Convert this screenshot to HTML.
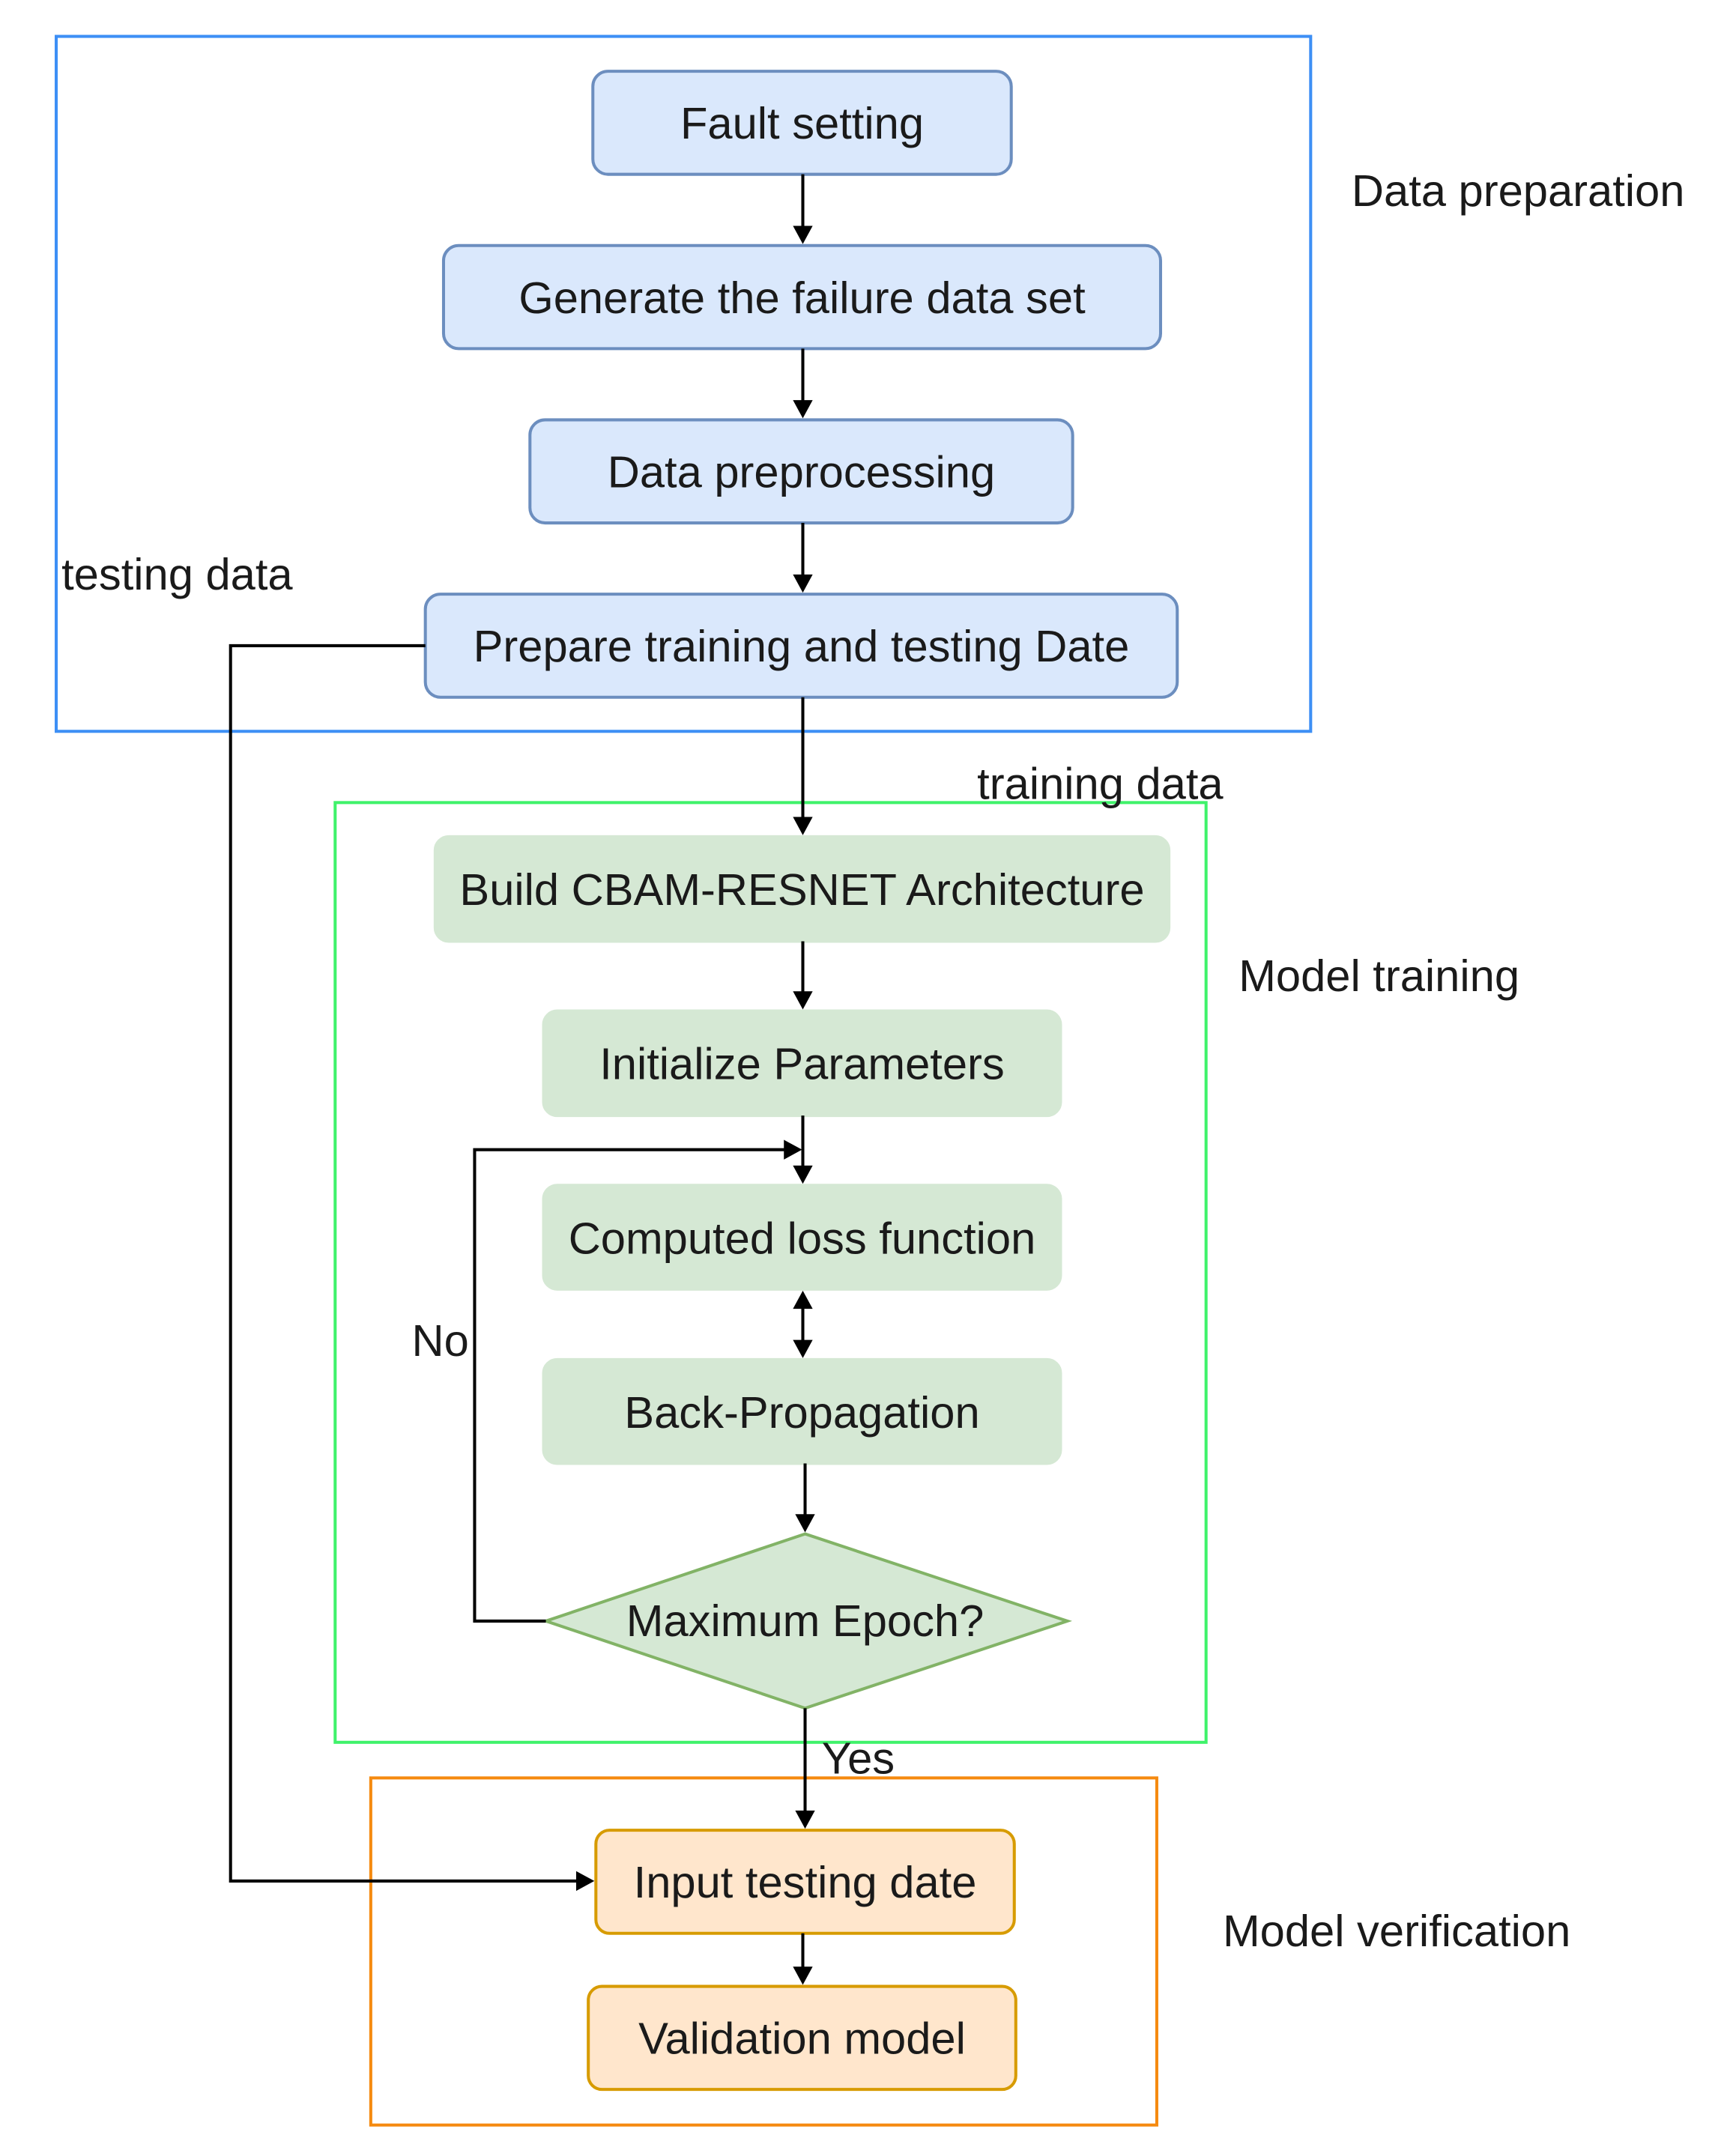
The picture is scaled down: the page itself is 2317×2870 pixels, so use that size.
<!DOCTYPE html>
<html><head><meta charset="utf-8"><style>
html,body{margin:0;padding:0;background:#fff;}
svg text{font-family:"Liberation Sans",Arial,sans-serif;font-size:59px;fill:#1a1a1a;}
</style></head><body>
<svg width="2317" height="2865" viewBox="0 0 2290 2832" xmlns="http://www.w3.org/2000/svg">
<!-- group frames -->
<rect x="74" y="48" width="1655" height="917" fill="none" stroke="#3d8ff5" stroke-width="4"/>
<rect x="442" y="1059" width="1149" height="1240" fill="none" stroke="#3ff26a" stroke-width="4"/>
<rect x="489" y="2346" width="1037" height="458" fill="none" stroke="#f58a10" stroke-width="4"/>

<!-- blue boxes -->
<g fill="#dae8fc" stroke="#6c8ebf" stroke-width="4">
<rect x="782" y="94" width="552" height="136" rx="20"/>
<rect x="585" y="324" width="946" height="136" rx="20"/>
<rect x="699" y="554" width="716" height="136" rx="20"/>
<rect x="561" y="784" width="992" height="136" rx="20"/>
</g>
<!-- green boxes -->
<g fill="#d5e8d4" stroke="#d5e8d4" stroke-width="4">
<rect x="574" y="1104" width="968" height="138" rx="18"/>
<rect x="717" y="1334" width="682" height="138" rx="18"/>
<rect x="717" y="1564" width="682" height="137" rx="18"/>
<rect x="717" y="1794" width="682" height="137" rx="18"/>
</g>
<polygon points="1062,2024 1408,2139 1062,2254 720,2139" fill="#d5e8d4" stroke="#82b366" stroke-width="4"/>
<!-- orange boxes -->
<g fill="#ffe6cc" stroke="#d79b00" stroke-width="4">
<rect x="786" y="2415" width="552" height="136" rx="18"/>
<rect x="776" y="2621" width="564" height="136" rx="18"/>
</g>

<!-- connectors -->
<g stroke="#000" stroke-width="4" fill="none">
<line x1="1059" y1="230" x2="1059" y2="300"/>
<line x1="1059" y1="460" x2="1059" y2="530"/>
<line x1="1059" y1="690" x2="1059" y2="760"/>
<line x1="1059" y1="920" x2="1059" y2="1080"/>
<line x1="1059" y1="1242" x2="1059" y2="1310"/>
<line x1="1059" y1="1472" x2="1059" y2="1540"/>
<line x1="1059" y1="1725" x2="1059" y2="1770"/>
<line x1="1062" y1="1931" x2="1062" y2="2000"/>
<line x1="1062" y1="2254" x2="1062" y2="2391"/>
<line x1="1059" y1="2551" x2="1059" y2="2597"/>
<polyline points="561,852 304,852 304,2482 762,2482"/>
<polyline points="720,2139 626,2139 626,1517 1040,1517"/>
</g>
<g fill="#000">
<polygon points="1046,298 1072,298 1059,322"/>
<polygon points="1046,528 1072,528 1059,552"/>
<polygon points="1046,758 1072,758 1059,782"/>
<polygon points="1046,1078 1072,1078 1059,1102"/>
<polygon points="1046,1308 1072,1308 1059,1332"/>
<polygon points="1046,1538 1072,1538 1059,1562"/>
<polygon points="1046,1727 1072,1727 1059,1703"/>
<polygon points="1046,1768 1072,1768 1059,1792"/>
<polygon points="1049,1998 1075,1998 1062,2022"/>
<polygon points="1049,2389 1075,2389 1062,2413"/>
<polygon points="1046,2595 1072,2595 1059,2619"/>
<polygon points="760,2469 760,2495 784,2482"/>
<polygon points="1034,1504 1034,1530 1058,1517"/>
</g>

<!-- box texts -->
<g text-anchor="middle">
<text x="1058" y="183">Fault setting</text>
<text x="1058" y="413">Generate the failure data set</text>
<text x="1057" y="643">Data preprocessing</text>
<text x="1057" y="873">Prepare training and testing Date</text>
<text x="1058" y="1194">Build CBAM-RESNET Architecture</text>
<text x="1058" y="1424">Initialize  Parameters</text>
<text x="1058" y="1654">Computed loss function</text>
<text x="1058" y="1884">Back-Propagation</text>
<text x="1062" y="2159">Maximum Epoch?</text>
<text x="1062" y="2504">Input testing date</text>
<text x="1058" y="2710">Validation model</text>
</g>
<!-- labels -->
<text x="1783" y="272">Data preparation</text>
<text x="81" y="778">testing data</text>
<text x="1289" y="1054">training data</text>
<text x="1634" y="1308">Model training</text>
<text x="543" y="1789">No</text>
<text x="1084" y="2340">Yes</text>
<text x="1613" y="2568">Model verification</text>
</svg>
</body></html>
